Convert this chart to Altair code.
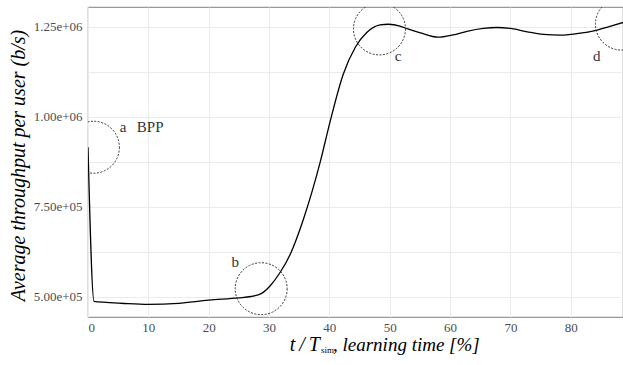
import altair as alt
import pandas as pd

# ---- data ----
time_pct = [0, 1, 3, 6, 10, 15, 20, 25, 27, 28.7, 30.2, 31.8, 33.5, 35.7, 38.5,
            40.1, 42.3, 44.3, 46.2, 48.4, 49.8, 51.7, 53, 55.1, 58.0, 60.5, 62.8,
            65.5, 67.8, 70.5, 72.8, 75.5, 78.3, 81, 84.4, 86.5, 88.7]
throughput = [915000, 486500, 483500, 480500, 478000, 481000, 490000, 496000,
              500000, 508000, 530000, 566000, 617000, 715000, 875000, 985000,
              1118000, 1193000, 1234000, 1255000, 1257000, 1252000, 1244000,
              1233000, 1221000, 1227500, 1237500, 1245500, 1248000, 1244000,
              1236000, 1229000, 1227000, 1231000, 1241000, 1251000, 1262000]

circle_x = [0.9, 28.7, 48.3, 88.4]
circle_y = [915000, 521700, 1244000, 1257500]

label_text = ["a", "BPP", "b", "c", "d"]
label_x = [5.8, 10.3, 24.4, 51.4, 84.3]
label_y = [956400, 956400, 581400, 1155600, 1155600]

x_grid = [0, 5, 10, 15, 20, 25, 30, 35, 40, 45, 50, 55, 60, 65, 70, 75, 80, 85]
y_grid = [500000, 625000, 750000, 875000, 1000000, 1125000, 1250000]

x_title_parts = ["t\u2009/\u2009T", "sim", ", learning time [%]"]
y_title = "Average throughput per user (b/s)"

X_DOMAIN = [0, 88.66]
Y_DOMAIN = [443000, 1305000]

FONT = "'Liberation Serif', 'DejaVu Serif', serif"

line_df = pd.DataFrame({"t": time_pct, "v": throughput})
circ_df = pd.DataFrame({"t": circle_x, "v": circle_y})
lab_df = pd.DataFrame({"t": label_x, "v": label_y, "txt": label_text})

xs = alt.Scale(domain=X_DOMAIN, nice=False, zero=False)
ys = alt.Scale(domain=Y_DOMAIN, nice=False, zero=False)

x_axis = alt.Axis(values=x_grid, title=None,
                  labelExpr="datum.value % 10 == 0 ? datum.label : ''",
                  labelPadding=4)
y_axis = alt.Axis(values=y_grid, title=y_title,
                  labelExpr="datum.value % 250000 == 0 ? replace(format(datum.value, '.2e'), 'e+', 'e+0') : ''",
                  labelPadding=6,
                  titleX=-70, titleY=158, titleAngle=-90, titleAlign="center",
                  titleBaseline="middle", titleFont=FONT, titleFontStyle="italic",
                  titleFontWeight="normal", titleFontSize=20, titleColor="#000000")

line = alt.Chart(line_df).mark_line(color="#000000", strokeWidth=1.3,
                                    interpolate="monotone", clip=True).encode(
    x=alt.X("t:Q", scale=xs, axis=x_axis),
    y=alt.Y("v:Q", scale=ys, axis=y_axis),
)

circles = alt.Chart(circ_df).mark_point(shape="circle", filled=False, size=2700,
                                        color="#333333", strokeWidth=1,
                                        strokeDash=[2, 1.5], clip=True,
                                        opacity=1).encode(
    x=alt.X("t:Q", scale=xs),
    y=alt.Y("v:Q", scale=ys),
)

labels = alt.Chart(lab_df).mark_text(font=FONT, fontSize=15, color="#333333",
                                     align="center", baseline="alphabetic").encode(
    x=alt.X("t:Q", scale=xs),
    y=alt.Y("v:Q", scale=ys),
    text="txt:N",
)

t1 = alt.Chart(pd.DataFrame({"s": [x_title_parts[0]]})).mark_text(
    font=FONT, fontSize=20, fontStyle="italic", color="#000000",
    align="right", baseline="alphabetic").encode(
    text="s:N", x=alt.value(232), y=alt.value(344))
t2 = alt.Chart(pd.DataFrame({"s": [x_title_parts[1]]})).mark_text(
    font=FONT, fontSize=9, color="#000000",
    align="left", baseline="alphabetic").encode(
    text="s:N", x=alt.value(233), y=alt.value(346))
t3 = alt.Chart(pd.DataFrame({"s": [x_title_parts[2]]})).mark_text(
    font=FONT, fontSize=19, fontStyle="italic", color="#000000",
    align="left", baseline="alphabetic").encode(
    text="s:N", x=alt.value(245), y=alt.value(344))

chart = alt.layer(line, circles, labels, t1, t2, t3).properties(
    width=535, height=310,
    autosize=alt.AutoSizeParams(type="none"),
    padding={"left": 88, "top": 7, "right": 0, "bottom": 48},
    background="#ffffff",
).configure_view(
    stroke="#999999", strokeWidth=1.2,
).configure_axis(
    domain=False, ticks=False,
    labelFont=FONT, labelFontSize=13, labelColor="#4d4d4d",
    gridColor="#ebebeb", gridWidth=1,
)

chart.save("out.html", embed_options={"renderer": "svg", "actions": False})
